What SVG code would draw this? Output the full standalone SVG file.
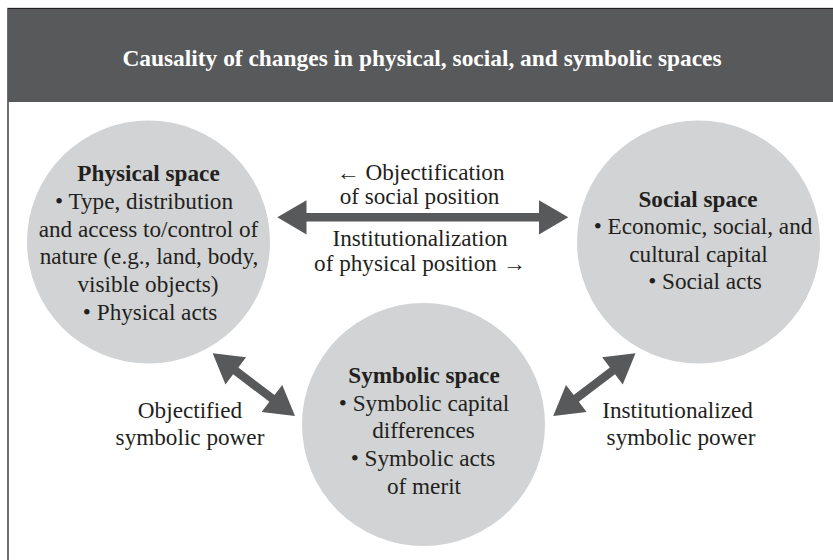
<svg xmlns="http://www.w3.org/2000/svg" width="833" height="560" viewBox="0 0 833 560">
  <style>
    .node { fill: #d1d3d4; }
    .arrow { fill: #58595b; }
    text { font-family: 'Liberation Serif', 'DejaVu Serif', serif; font-size: 23.2px; fill: #231f20; text-anchor: middle; }
    .title { font-weight: bold; fill: #ffffff; font-size: 23.4px; }
    .head { font-weight: bold; }
  </style>
  <defs>
    <polygon id="dbl" points="-51.75,0 -22.75,-17 -22.75,-4.25 22.75,-4.25 22.75,-17 51.75,0 22.75,17 22.75,4.25 -22.75,4.25 -22.75,17"/>
  </defs>
  <rect x="0" y="0" width="833" height="560" fill="#ffffff"/>
  <g id="frame">
    <rect x="8" y="8.5" width="840" height="560" fill="none" stroke="#231f20" stroke-width="1.3"/>
    <rect x="8" y="9" width="830" height="93" fill="#58595b"/>
    <text class="title" x="422" y="66">Causality of changes in physical, social, and symbolic spaces</text>
  </g>
  <g id="physical">
    <circle class="node" cx="148.5" cy="242" r="121.5"/>
    <text class="head" x="148.5" y="181">Physical space</text>
    <text x="144" y="209">• Type, distribution</text>
    <text x="148.5" y="237">and access to/control of</text>
    <text x="149" y="264">nature (e.g., land, body,</text>
    <text x="148" y="292">visible objects)</text>
    <text x="150" y="320">• Physical acts</text>
  </g>
  <g id="social">
    <circle class="node" cx="698.5" cy="242" r="121.5"/>
    <text class="head" x="698" y="207">Social space</text>
    <text x="703" y="234">• Economic, social, and</text>
    <text x="698.5" y="262">cultural capital</text>
    <text x="705" y="289">• Social acts</text>
  </g>
  <g id="symbolic">
    <circle class="node" cx="423.5" cy="424.5" r="121.5"/>
    <text class="head" x="424" y="383">Symbolic space</text>
    <text x="424" y="411">• Symbolic capital</text>
    <text x="423.5" y="438">differences</text>
    <text x="423" y="466">• Symbolic acts</text>
    <text x="424" y="494">of merit</text>
  </g>
  <g id="connectors">
    <polygon class="arrow" points="277.3,217.3 306.5,200.2 306.5,213.1 539,213.1 539,200.2 568.3,217.3 539,234.4 539,221.5 306.5,221.5 306.5,234.4"/>
    <use href="#dbl" class="arrow" transform="translate(253.85,384.65) rotate(37.3)"/>
    <use href="#dbl" class="arrow" transform="translate(594.35,384.65) rotate(-37.3)"/>
  </g>
  <g id="labels">
    <text x="420.5" y="180">← Objectification</text>
    <text x="419.5" y="204">of social position</text>
    <text x="420" y="246">Institutionalization</text>
    <text x="420" y="271">of physical position →</text>
    <text x="190" y="418">Objectified</text>
    <text x="190" y="445">symbolic power</text>
    <text x="677.5" y="418">Institutionalized</text>
    <text x="681" y="445">symbolic power</text>
  </g>
</svg>
